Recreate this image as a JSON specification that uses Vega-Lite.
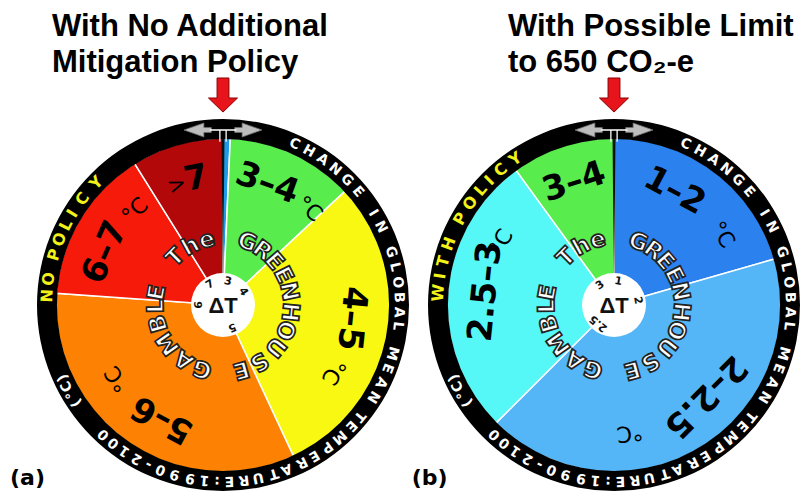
{
  "$schema": "https://vega.github.io/schema/vega-lite/v6.json",
  "background": "white",
  "padding": {"top": 10, "left": 0, "right": 0, "bottom": 0},
  "bounds": "flush",
  "spacing": 0,
  "datasets": {
    "full": [{"t0": 0, "t1": 360}],
    "needle": [{"t0": -0.5, "t1": 0.5}],
    "bandsA": [
      {"band": "<3", "t0": 0, "t1": 2.5},
      {"band": "3–4", "t0": 2.5, "t1": 47},
      {"band": "4–5", "t0": 47, "t1": 155},
      {"band": "5–6", "t0": 155, "t1": 274},
      {"band": "6–7", "t0": 274, "t1": 328},
      {"band": ">7", "t0": 328, "t1": 360}
    ],
    "bandsB": [
      {"band": "1–2", "t0": 0, "t1": 74},
      {"band": "2–2.5", "t0": 74, "t1": 225},
      {"band": "2.5–3", "t0": 225, "t1": 324},
      {"band": "3–4", "t0": 324, "t1": 360}
    ],
    "labelsA": [
      {"lab": "3–4", "deg": 20},
      {"lab": "4–5", "deg": 96},
      {"lab": "5–6", "deg": 208},
      {"lab": "6–7", "deg": 294},
      {"lab": "7", "deg": 348}
    ],
    "unitsA": [
      {"lab": "°C", "deg": 42},
      {"lab": "°C", "deg": 121},
      {"lab": "°C", "deg": 235},
      {"lab": "°C", "deg": 317},
      {"lab": ">", "deg": 339}
    ],
    "labelsB": [
      {"lab": "1–2", "deg": 28},
      {"lab": "2–2.5", "deg": 135},
      {"lab": "2.5–3", "deg": 276},
      {"lab": "3–4", "deg": 342}
    ],
    "unitsB": [
      {"lab": "°C", "deg": 57},
      {"lab": "°C", "deg": 173},
      {"lab": "°C", "deg": 299}
    ],
    "ticksA": [
      {"ch": "7", "deg": 327.5},
      {"ch": "3", "deg": 12},
      {"ch": "4", "deg": 57},
      {"ch": "5", "deg": 158},
      {"ch": "6", "deg": 270}
    ],
    "ticksB": [
      {"ch": "3", "deg": 325},
      {"ch": "1", "deg": 10},
      {"ch": "2", "deg": 79},
      {"ch": "2.5", "deg": 220}
    ],
    "gamble": [
      {"ch": "T", "deg": 315}, {"ch": "h", "deg": 331}, {"ch": "e", "deg": 346},
      {"ch": "G", "deg": 21}, {"ch": "R", "deg": 36}, {"ch": "E", "deg": 49.5},
      {"ch": "E", "deg": 63.5}, {"ch": "N", "deg": 78.5}, {"ch": "H", "deg": 96},
      {"ch": "O", "deg": 112}, {"ch": "U", "deg": 128.8}, {"ch": "S", "deg": 147.6},
      {"ch": "E", "deg": 164.3},
      {"ch": "G", "deg": 198}, {"ch": "A", "deg": 215.5}, {"ch": "M", "deg": 235},
      {"ch": "B", "deg": 254}, {"ch": "L", "deg": 269}, {"ch": "E", "deg": 280.5}
    ],
    "ringText": [
      {"ch": "C", "deg": 24}, {"ch": "H", "deg": 29.2}, {"ch": "A", "deg": 34.4},
      {"ch": "N", "deg": 39.6}, {"ch": "G", "deg": 44.8}, {"ch": "E", "deg": 50},
      {"ch": "I", "deg": 58.5}, {"ch": "N", "deg": 63.7},
      {"ch": "G", "deg": 72.5}, {"ch": "L", "deg": 77.5}, {"ch": "O", "deg": 82.6},
      {"ch": "B", "deg": 87.5}, {"ch": "A", "deg": 92.4}, {"ch": "L", "deg": 96.8},
      {"ch": "M", "deg": 105.9}, {"ch": "E", "deg": 111}, {"ch": "A", "deg": 116.2},
      {"ch": "N", "deg": 121.5},
      {"ch": "T", "deg": 129.2}, {"ch": "E", "deg": 133.3}, {"ch": "M", "deg": 138.7},
      {"ch": "P", "deg": 143.8}, {"ch": "E", "deg": 148.9}, {"ch": "R", "deg": 153.4},
      {"ch": "A", "deg": 158.9}, {"ch": "T", "deg": 163.3}, {"ch": "U", "deg": 168.5},
      {"ch": "R", "deg": 173.2}, {"ch": "E", "deg": 177.9}, {"ch": ":", "deg": 181.9},
      {"ch": "1", "deg": 186}, {"ch": "9", "deg": 190.7}, {"ch": "9", "deg": 195.9},
      {"ch": "0", "deg": 200.7}, {"ch": "-", "deg": 205}, {"ch": "2", "deg": 209.3},
      {"ch": "1", "deg": 214}, {"ch": "0", "deg": 218.4}, {"ch": "0", "deg": 222.7},
      {"ch": "(", "deg": 236.2}, {"ch": "°", "deg": 239.5}, {"ch": "C", "deg": 242.5},
      {"ch": ")", "deg": 245.6}
    ],
    "policyA": [
      {"ch": "N", "deg": 273}, {"ch": "O", "deg": 278.5},
      {"ch": "P", "deg": 286.5}, {"ch": "O", "deg": 291.8}, {"ch": "L", "deg": 297},
      {"ch": "I", "deg": 301.3}, {"ch": "C", "deg": 307}, {"ch": "Y", "deg": 314}
    ],
    "policyB": [
      {"ch": "W", "deg": 274}, {"ch": "I", "deg": 279.5}, {"ch": "T", "deg": 284.3},
      {"ch": "H", "deg": 290.3},
      {"ch": "P", "deg": 299.3}, {"ch": "O", "deg": 305.3}, {"ch": "L", "deg": 310.8},
      {"ch": "I", "deg": 315}, {"ch": "C", "deg": 320}, {"ch": "Y", "deg": 326}
    ],
    "tagA": [{"lab": "(a)", "deg": 228.5}],
    "tagB": [{"lab": "(b)", "deg": 226.8}],
    "marker": [{"k": "pointer"}]
  },
  "hconcat": [
    {
      "width": 446,
      "height": 370,
      "title": {
        "text": ["With No Additional", "Mitigation Policy"],
        "anchor": "start", "frame": "group", "dx": 52, "offset": -3,
        "font": "Liberation Sans", "fontSize": 31, "fontWeight": "bold",
        "lineHeight": 36, "color": "#000000"
      },
      "layer": [
        {
          "data": {"name": "bandsA"},
          "mark": {"type": "arc", "radius": 167, "stroke": "white", "strokeWidth": 1.5},
          "encoding": {
            "theta": {"field": "t0", "type": "quantitative", "stack": null, "scale": {"domain": [0, 360], "range": [0, 6.283185]}},
            "theta2": {"field": "t1"},
            "color": {
              "field": "band", "type": "nominal", "legend": null,
              "scale": {
                "domain": ["<3", "3–4", "4–5", "5–6", "6–7", ">7", "1–2", "2–2.5", "2.5–3"],
                "range": ["#1e9be6", "#58ec4c", "#f8f812", "#fd8204", "#f51a0a", "#b3080a", "#2b82ef", "#55b6f7", "#55f7f7"]
              }
            }
          }
        },
        {
          "data": {"name": "needle"},
          "mark": {"type": "arc", "radius": 167, "radius2": 32, "color": "#111111"},
          "encoding": {
            "theta": {"field": "t0", "type": "quantitative", "stack": null, "scale": {"domain": [0, 360], "range": [0, 6.283185]}},
            "theta2": {"field": "t1"}
          }
        },
        {
          "data": {"name": "full"},
          "mark": {"type": "arc", "radius": 186, "radius2": 166, "color": "#000000"},
          "encoding": {
            "theta": {"field": "t0", "type": "quantitative", "stack": null, "scale": {"domain": [0, 360], "range": [0, 6.283185]}},
            "theta2": {"field": "t1"}
          }
        },
        {
          "data": {"name": "full"},
          "mark": {"type": "arc", "radius": 32, "color": "#ffffff"},
          "encoding": {
            "theta": {"field": "t0", "type": "quantitative", "stack": null, "scale": {"domain": [0, 360], "range": [0, 6.283185]}},
            "theta2": {"field": "t1"}
          }
        },
        {
          "data": {"name": "ticksA"},
          "mark": {"type": "text", "radius": 24, "font": "DejaVu Sans", "fontSize": 11, "fontWeight": "bold", "align": "center", "baseline": "middle", "color": "#111111"},
          "encoding": {
            "theta": {"field": "deg", "type": "quantitative", "stack": null, "scale": {"domain": [0, 360], "range": [0, 6.283185]}},
            "angle": {"field": "deg", "type": "quantitative", "scale": null},
            "text": {"field": "ch"}
          }
        },
        {
          "data": {"name": "marker"},
          "mark": {"type": "text", "text": "ΔT", "font": "Liberation Sans", "fontSize": 22, "fontWeight": "bold", "align": "center", "baseline": "middle", "color": "#111111", "dy": 1}
        },
        {
          "data": {"name": "gamble"},
          "mark": {"type": "text", "radius": 67, "font": "DejaVu Sans", "fontSize": 23, "fontWeight": "bold", "align": "center", "baseline": "middle", "fill": "#ffffff", "stroke": "#222222", "strokeWidth": 1.7},
          "encoding": {
            "theta": {"field": "deg", "type": "quantitative", "stack": null, "scale": {"domain": [0, 360], "range": [0, 6.283185]}},
            "angle": {"field": "deg", "type": "quantitative", "scale": null},
            "text": {"field": "ch"}
          }
        },
        {
          "data": {"name": "labelsA"},
          "mark": {"type": "text", "radius": 129, "font": "DejaVu Sans", "fontSize": 34, "fontWeight": "bold", "align": "center", "baseline": "middle", "color": "#000000"},
          "encoding": {
            "theta": {"field": "deg", "type": "quantitative", "stack": null, "scale": {"domain": [0, 360], "range": [0, 6.283185]}},
            "angle": {"field": "deg", "type": "quantitative", "scale": null},
            "text": {"field": "lab"}
          }
        },
        {
          "data": {"name": "unitsA"},
          "mark": {"type": "text", "radius": 129, "font": "DejaVu Sans", "fontSize": 22, "align": "center", "baseline": "middle", "color": "#000000"},
          "encoding": {
            "theta": {"field": "deg", "type": "quantitative", "stack": null, "scale": {"domain": [0, 360], "range": [0, 6.283185]}},
            "angle": {"field": "deg", "type": "quantitative", "scale": null},
            "text": {"field": "lab"}
          }
        },
        {
          "data": {"name": "ringText"},
          "mark": {"type": "text", "radius": 176, "font": "DejaVu Sans", "fontSize": 14, "fontWeight": "bold", "align": "center", "baseline": "middle", "color": "#ffffff"},
          "encoding": {
            "theta": {"field": "deg", "type": "quantitative", "stack": null, "scale": {"domain": [0, 360], "range": [0, 6.283185]}},
            "angle": {"field": "deg", "type": "quantitative", "scale": null},
            "text": {"field": "ch"}
          }
        },
        {
          "data": {"name": "policyA"},
          "mark": {"type": "text", "radius": 176, "font": "DejaVu Sans", "fontSize": 16, "fontWeight": "bold", "align": "center", "baseline": "middle", "color": "#f2f21a"},
          "encoding": {
            "theta": {"field": "deg", "type": "quantitative", "stack": null, "scale": {"domain": [0, 360], "range": [0, 6.283185]}},
            "angle": {"field": "deg", "type": "quantitative", "scale": null},
            "text": {"field": "ch"}
          }
        },
        {
          "data": {"name": "marker"},
          "mark": {"type": "point", "shape": "M -1 0 L -0.49 -0.18 L -0.49 -0.064 L -0.3 -0.064 L -0.3 0.064 L -0.49 0.064 L -0.49 0.18 Z M 1 0 L 0.49 -0.18 L 0.49 -0.064 L 0.3 -0.064 L 0.3 0.064 L 0.49 0.064 L 0.49 0.18 Z", "size": 6084, "filled": true, "fill": "#bdbdbd", "stroke": "#6e6e6e", "strokeWidth": 0.8, "opacity": 1, "yOffset": -175}
        },
        {
          "data": {"name": "marker"},
          "mark": {"type": "point", "shape": "M -0.34 0 L 0.34 0 M -0.08 0 L -0.08 0.3 M 0.08 0 L 0.08 0.3", "size": 6084, "filled": false, "stroke": "#ffffff", "strokeWidth": 1.3, "opacity": 1, "yOffset": -175}
        },
        {
          "data": {"name": "marker"},
          "mark": {"type": "point", "shape": "M -0.41 -1.38 L 0.41 -1.38 L 0.41 0 L 1 0 L 0 0.97 L -1 0 L -0.41 0 Z", "size": 841, "filled": true, "fill": "#e8141c", "stroke": "#8a0000", "strokeWidth": 1, "opacity": 1, "yOffset": -207}
        },
        {
          "data": {"name": "tagA"},
          "mark": {"type": "text", "radius": 261, "font": "DejaVu Sans", "fontSize": 22, "fontWeight": "bold", "align": "center", "baseline": "middle", "color": "#000000"},
          "encoding": {
            "theta": {"field": "deg", "type": "quantitative", "stack": null, "scale": {"domain": [0, 360], "range": [0, 6.283185]}},
            "text": {"field": "lab"}
          }
        }
      ]
    },
    {
      "width": 336,
      "height": 370,
      "title": {
        "text": ["With Possible Limit", "to 650 CO₂-e"],
        "anchor": "start", "frame": "group", "dx": 62, "offset": -3,
        "font": "Liberation Sans", "fontSize": 31, "fontWeight": "bold",
        "lineHeight": 36, "color": "#000000"
      },
      "layer": [
        {
          "data": {"name": "bandsB"},
          "mark": {"type": "arc", "radius": 167, "stroke": "white", "strokeWidth": 1.5},
          "encoding": {
            "theta": {"field": "t0", "type": "quantitative", "stack": null, "scale": {"domain": [0, 360], "range": [0, 6.283185]}},
            "theta2": {"field": "t1"},
            "color": {
              "field": "band", "type": "nominal", "legend": null,
              "scale": {
                "domain": ["<3", "3–4", "4–5", "5–6", "6–7", ">7", "1–2", "2–2.5", "2.5–3"],
                "range": ["#1e9be6", "#58ec4c", "#f8f812", "#fd8204", "#f51a0a", "#b3080a", "#2b82ef", "#55b6f7", "#55f7f7"]
              }
            }
          }
        },
        {
          "data": {"name": "needle"},
          "mark": {"type": "arc", "radius": 167, "radius2": 32, "color": "#111111"},
          "encoding": {
            "theta": {"field": "t0", "type": "quantitative", "stack": null, "scale": {"domain": [0, 360], "range": [0, 6.283185]}},
            "theta2": {"field": "t1"}
          }
        },
        {
          "data": {"name": "full"},
          "mark": {"type": "arc", "radius": 186, "radius2": 166, "color": "#000000"},
          "encoding": {
            "theta": {"field": "t0", "type": "quantitative", "stack": null, "scale": {"domain": [0, 360], "range": [0, 6.283185]}},
            "theta2": {"field": "t1"}
          }
        },
        {
          "data": {"name": "full"},
          "mark": {"type": "arc", "radius": 32, "color": "#ffffff"},
          "encoding": {
            "theta": {"field": "t0", "type": "quantitative", "stack": null, "scale": {"domain": [0, 360], "range": [0, 6.283185]}},
            "theta2": {"field": "t1"}
          }
        },
        {
          "data": {"name": "ticksB"},
          "mark": {"type": "text", "radius": 24, "font": "DejaVu Sans", "fontSize": 11, "fontWeight": "bold", "align": "center", "baseline": "middle", "color": "#111111"},
          "encoding": {
            "theta": {"field": "deg", "type": "quantitative", "stack": null, "scale": {"domain": [0, 360], "range": [0, 6.283185]}},
            "angle": {"field": "deg", "type": "quantitative", "scale": null},
            "text": {"field": "ch"}
          }
        },
        {
          "data": {"name": "marker"},
          "mark": {"type": "text", "text": "ΔT", "font": "Liberation Sans", "fontSize": 22, "fontWeight": "bold", "align": "center", "baseline": "middle", "color": "#111111", "dy": 1}
        },
        {
          "data": {"name": "gamble"},
          "mark": {"type": "text", "radius": 67, "font": "DejaVu Sans", "fontSize": 23, "fontWeight": "bold", "align": "center", "baseline": "middle", "fill": "#ffffff", "stroke": "#222222", "strokeWidth": 1.7},
          "encoding": {
            "theta": {"field": "deg", "type": "quantitative", "stack": null, "scale": {"domain": [0, 360], "range": [0, 6.283185]}},
            "angle": {"field": "deg", "type": "quantitative", "scale": null},
            "text": {"field": "ch"}
          }
        },
        {
          "data": {"name": "labelsB"},
          "mark": {"type": "text", "radius": 129, "font": "DejaVu Sans", "fontSize": 34, "fontWeight": "bold", "align": "center", "baseline": "middle", "color": "#000000"},
          "encoding": {
            "theta": {"field": "deg", "type": "quantitative", "stack": null, "scale": {"domain": [0, 360], "range": [0, 6.283185]}},
            "angle": {"field": "deg", "type": "quantitative", "scale": null},
            "text": {"field": "lab"}
          }
        },
        {
          "data": {"name": "unitsB"},
          "mark": {"type": "text", "radius": 129, "font": "DejaVu Sans", "fontSize": 22, "align": "center", "baseline": "middle", "color": "#000000"},
          "encoding": {
            "theta": {"field": "deg", "type": "quantitative", "stack": null, "scale": {"domain": [0, 360], "range": [0, 6.283185]}},
            "angle": {"field": "deg", "type": "quantitative", "scale": null},
            "text": {"field": "lab"}
          }
        },
        {
          "data": {"name": "ringText"},
          "mark": {"type": "text", "radius": 176, "font": "DejaVu Sans", "fontSize": 14, "fontWeight": "bold", "align": "center", "baseline": "middle", "color": "#ffffff"},
          "encoding": {
            "theta": {"field": "deg", "type": "quantitative", "stack": null, "scale": {"domain": [0, 360], "range": [0, 6.283185]}},
            "angle": {"field": "deg", "type": "quantitative", "scale": null},
            "text": {"field": "ch"}
          }
        },
        {
          "data": {"name": "policyB"},
          "mark": {"type": "text", "radius": 176, "font": "DejaVu Sans", "fontSize": 16, "fontWeight": "bold", "align": "center", "baseline": "middle", "color": "#f2f21a"},
          "encoding": {
            "theta": {"field": "deg", "type": "quantitative", "stack": null, "scale": {"domain": [0, 360], "range": [0, 6.283185]}},
            "angle": {"field": "deg", "type": "quantitative", "scale": null},
            "text": {"field": "ch"}
          }
        },
        {
          "data": {"name": "marker"},
          "mark": {"type": "point", "shape": "M -1 0 L -0.49 -0.18 L -0.49 -0.064 L -0.3 -0.064 L -0.3 0.064 L -0.49 0.064 L -0.49 0.18 Z M 1 0 L 0.49 -0.18 L 0.49 -0.064 L 0.3 -0.064 L 0.3 0.064 L 0.49 0.064 L 0.49 0.18 Z", "size": 6084, "filled": true, "fill": "#bdbdbd", "stroke": "#6e6e6e", "strokeWidth": 0.8, "opacity": 1, "yOffset": -175}
        },
        {
          "data": {"name": "marker"},
          "mark": {"type": "point", "shape": "M -0.34 0 L 0.34 0 M -0.08 0 L -0.08 0.3 M 0.08 0 L 0.08 0.3", "size": 6084, "filled": false, "stroke": "#ffffff", "strokeWidth": 1.3, "opacity": 1, "yOffset": -175}
        },
        {
          "data": {"name": "marker"},
          "mark": {"type": "point", "shape": "M -0.41 -1.38 L 0.41 -1.38 L 0.41 0 L 1 0 L 0 0.97 L -1 0 L -0.41 0 Z", "size": 841, "filled": true, "fill": "#e8141c", "stroke": "#8a0000", "strokeWidth": 1, "opacity": 1, "yOffset": -207}
        },
        {
          "data": {"name": "tagB"},
          "mark": {"type": "text", "radius": 253, "font": "DejaVu Sans", "fontSize": 22, "fontWeight": "bold", "align": "center", "baseline": "middle", "color": "#000000"},
          "encoding": {
            "theta": {"field": "deg", "type": "quantitative", "stack": null, "scale": {"domain": [0, 360], "range": [0, 6.283185]}},
            "text": {"field": "lab"}
          }
        }
      ]
    }
  ],
  "config": {"view": {"stroke": null}}
}
